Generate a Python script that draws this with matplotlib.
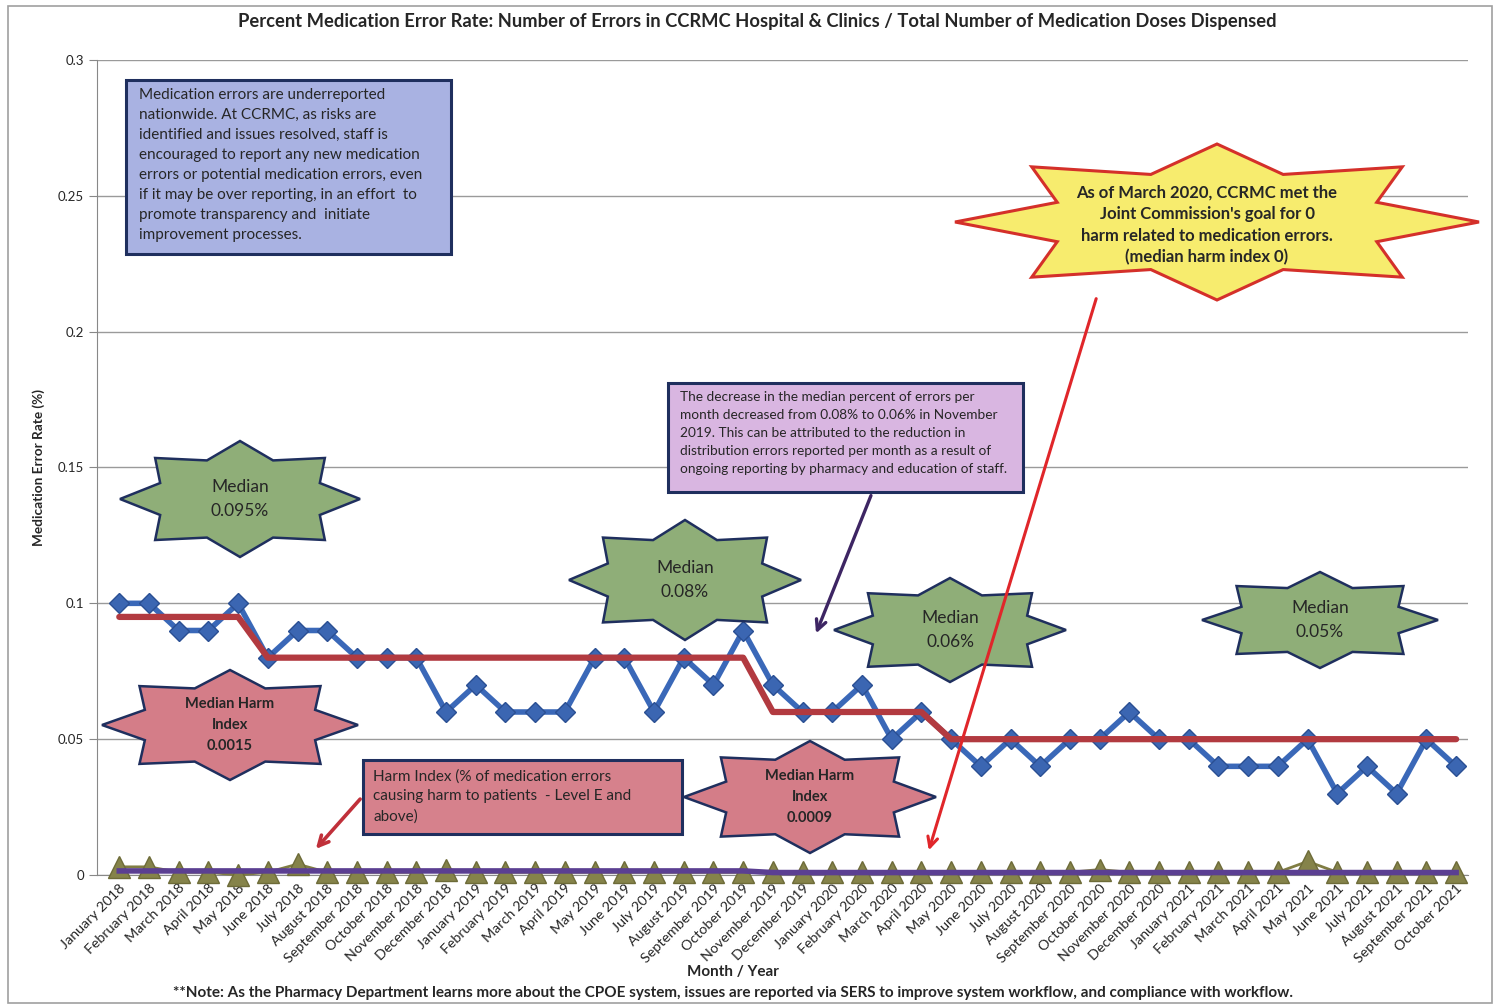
import numpy as np
import matplotlib

matplotlib.use("Agg")
import matplotlib.pyplot as plt
from matplotlib.patches import Polygon, Rectangle, FancyArrowPatch

W, H = 1503, 1007

month_names = ["January", "February", "March", "April", "May", "June", "July",
               "August", "September", "October", "November", "December"]
months = [f"{m} {y}" for y in (2018, 2019, 2020, 2021) for m in month_names][:46]

error_rate = [0.10, 0.10, 0.09, 0.09, 0.10, 0.08, 0.09, 0.09, 0.08, 0.08, 0.08, 0.06,
              0.07, 0.06, 0.06, 0.06, 0.08, 0.08, 0.06, 0.08, 0.07, 0.09, 0.07, 0.06,
              0.06, 0.07, 0.05, 0.06, 0.05, 0.04, 0.05, 0.04, 0.05, 0.05, 0.06, 0.05,
              0.05, 0.04, 0.04, 0.04, 0.05, 0.03, 0.04, 0.03, 0.05, 0.04]
median_rate = [0.095] * 5 + [0.08] * 17 + [0.06] * 6 + [0.05] * 18

harm_index = [0.003, 0.003, 0.001, 0.001, 0.0, 0.001, 0.004, 0.001, 0.001, 0.001, 0.001, 0.002,
              0.001, 0.001, 0.001, 0.001, 0.001, 0.001, 0.001, 0.001, 0.001, 0.001, 0.001, 0.001,
              0.001, 0.001, 0.001, 0.001, 0.001, 0.001, 0.001, 0.001, 0.001, 0.002, 0.001, 0.001,
              0.001, 0.001, 0.001, 0.001, 0.005, 0.001, 0.001, 0.001, 0.001, 0.001]
median_harm = [0.0015] * 22 + [0.0009] * 24

y_ticks = [0, 0.05, 0.1, 0.15, 0.2, 0.25, 0.3]
y_tick_labels = ["0", "0.05", "0.1", "0.15", "0.2", "0.25", "0.3"]

plt.rcParams["font.family"] = ["Lato", "DejaVu Sans"]

NAVY = "#1f2f5e"
TXT = "#262626"


def px(x, y):
    return (x / W, 1 - y / H)


def star(fig, cx, cy, rx, ry, n=8, k=0.72, rot=90, fc="#8fae78", ec=NAVY, lw=1.8, z=5):
    ang = np.deg2rad(rot + np.arange(2 * n) * 180.0 / n)
    r = np.where(np.arange(2 * n) % 2 == 0, 1.0, k)
    pts = [px(cx + rx * ri * np.cos(a), cy - ry * ri * np.sin(a)) for a, ri in zip(ang, r)]
    fig.patches.append(Polygon(pts, closed=True, transform=fig.transFigure,
                               facecolor=fc, edgecolor=ec, linewidth=lw, zorder=z))


def box(fig, x0, y0, x1, y1, fc, ec=NAVY, lw=2.2):
    fig.patches.append(Rectangle(px(x0, y1), (x1 - x0) / W, (y1 - y0) / H,
                                 transform=fig.transFigure, facecolor=fc,
                                 edgecolor=ec, linewidth=lw, zorder=5))


def arrow(fig, p0, p1, color, lw=2.2, ms=18):
    fig.patches.append(FancyArrowPatch(px(*p0), px(*p1), transform=fig.transFigure,
                                       arrowstyle="->", mutation_scale=ms,
                                       color=color, linewidth=lw, zorder=6))


fig = plt.figure(figsize=(W / 100, H / 100), dpi=100)
ax = fig.add_axes([97 / W, 1 - 875 / H, (1468 - 97) / W, (875 - 60) / H])

x = np.arange(len(months))
ax.plot(x, harm_index, color="#807d43", linewidth=2, marker="^", markersize=16,
        markerfacecolor="#85834a", markeredgecolor="#6d6b38", zorder=3, clip_on=False)
ax.plot(x, median_harm, color="#5b3f92", linewidth=4, zorder=4, clip_on=False)
ax.plot(x, error_rate, color="#3a68b8", linewidth=4, marker="D", markersize=10,
        markerfacecolor="#3b66b2", markeredgecolor="#2a4f93", zorder=5)
ax.plot(x, median_rate, color="#b23a40", linewidth=4.5, zorder=6, solid_capstyle="round")

ax.set_xlim(-0.75, 45.4)
ax.set_ylim(0, 0.3)
ax.set_yticks(y_ticks)
ax.set_yticklabels(y_tick_labels, fontsize=9.5, color=TXT)
ax.set_xticks(x)
ax.set_xticklabels(months, rotation=45, ha="right", rotation_mode="anchor",
                   fontsize=10.3, color=TXT)
ax.tick_params(axis="x", length=0, pad=5)
ax.tick_params(axis="y", length=6, color="#888888", direction="out")
ax.grid(axis="y", color="#9a9a9a", linewidth=1)
ax.set_axisbelow(True)
for s in ("top", "right"):
    ax.spines[s].set_visible(False)
ax.spines["left"].set_color("#888888")
ax.spines["bottom"].set_color("#888888")
ax.set_ylabel("Medication Error Rate (%)", fontsize=9.8, fontweight="bold", color=TXT)
ax.yaxis.set_label_coords(-0.038, 0.5)

fig.text(757 / W, 1 - 22 / H,
         "Percent Medication Error Rate: Number of Errors in CCRMC Hospital & Clinics / "
         "Total Number of Medication Doses Dispensed",
         ha="center", va="center", fontsize=13.2, fontweight="bold", color=TXT)
fig.text(733 / W, 1 - 972 / H, "Month / Year", ha="center", va="center",
         fontsize=11, fontweight="bold", color=TXT)
fig.text(733 / W, 1 - 993 / H,
         "**Note: As the Pharmacy Department learns more about the CPOE system, issues are "
         "reported via SERS to improve system workflow, and compliance with workflow.",
         ha="center", va="center", fontsize=11, fontweight="bold", color=TXT)

fig.patches.append(Rectangle((8 / W, 1 - 1003 / H), (1492 - 8) / W, (1003 - 6) / H,
                             transform=fig.transFigure, fill=False,
                             edgecolor="#a0a0a0", linewidth=1.2))

# info boxes
box(fig, 126, 80, 451, 254, "#a9b2e2")
fig.text(139 / W, 1 - 88 / H,
         "Medication errors are underreported\nnationwide. At CCRMC, as risks are\n"
         "identified and issues resolved, staff is\nencouraged to report any new medication\n"
         "errors or potential medication errors, even\nif it may be over reporting, in an effort  to\n"
         "promote transparency and  initiate\nimprovement processes.",
         ha="left", va="top", fontsize=11, color=TXT, linespacing=1.55, zorder=7)

box(fig, 668, 383, 1023, 492, "#d9b6e1")
fig.text(680 / W, 1 - 391 / H,
         "The decrease in the median percent of errors per\nmonth decreased from 0.08% to 0.06% in November\n"
         "2019. This can be attributed to the reduction in\ndistribution errors reported per month as a result of\n"
         "ongoing reporting by pharmacy and education of staff.",
         ha="left", va="top", fontsize=9.8, color=TXT, linespacing=1.6, zorder=7)

box(fig, 363, 760, 682, 834, "#d6818c")
fig.text(373 / W, 1 - 769 / H,
         "Harm Index (% of medication errors\ncausing harm to patients  - Level E and\nabove)",
         ha="left", va="top", fontsize=11, color=TXT, linespacing=1.55, zorder=7)

# stars
green_stars = [(240, 499, 120, 58, "Median\n0.095%"), (685, 580, 116, 60, "Median\n0.08%"),
               (950, 630, 116, 52, "Median\n0.06%"), (1320, 620, 118, 48, "Median\n0.05%")]
for cx, cy, rx, ry, label in green_stars:
    star(fig, cx, cy, rx, ry)
    fig.text(cx / W, 1 - cy / H, label, ha="center", va="center", fontsize=12.5,
             color=TXT, linespacing=1.55, zorder=7)

pink_stars = [(230, 725, 128, 55, "Median Harm\nIndex\n0.0015"), (810, 797, 126, 56, "Median Harm\nIndex\n0.0009")]
for cx, cy, rx, ry, label in pink_stars:
    star(fig, cx, cy, rx, ry, fc="#d47d88")
    fig.text(cx / W, 1 - cy / H, label, ha="center", va="center", fontsize=10.5,
             fontweight="bold", color=TXT, linespacing=1.6, zorder=7)

star(fig, 1217, 222, 262, 78, fc="#f7ec6e", ec="#d4302a", lw=2.2, k=0.66)
fig.text(1207 / W, 1 - 225 / H,
         "As of March 2020, CCRMC met the\nJoint Commission's goal for 0\n"
         "harm related to medication errors.\n(median harm index 0)",
         ha="center", va="center", fontsize=12, fontweight="bold", color=TXT,
         linespacing=1.42, zorder=7)

# arrows
arrow(fig, (872, 493), (815, 636), "#3d2563", lw=2.4)
arrow(fig, (362, 797), (314, 851), "#c0303a", lw=2.6)
arrow(fig, (1097, 296), (928, 853), "#e0262a", lw=2.2)

fig.savefig("out.png", dpi=100)
